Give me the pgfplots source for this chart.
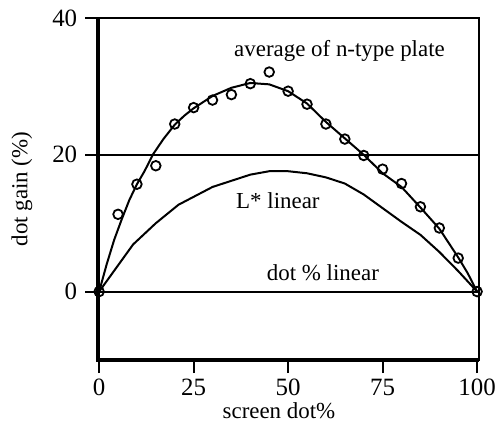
\documentclass[border=0pt]{standalone}
\usepackage{pgfplots}
\pgfplotsset{compat=1.18}
\usepackage{fontspec}
\setmainfont{Liberation Serif}

% circles: measured dot gain
\pgfplotstableread{
x y
0 0
5 11.3
10 15.7
15 18.4
20 24.5
25 26.9
30 28.0
35 28.8
40 30.4
45 32.1
50 29.3
55 27.4
60 24.5
65 22.3
70 19.9
75 17.9
80 15.8
85 12.4
90 9.3
95 4.9
100 0
}\measured

% fitted curve through the circles
\pgfplotstableread{
x y
0 0
2 4
4 7.6
6 10.6
8 13.4
10 15.7
12 17.6
14.3 20.1
17 22.3
20 24.4
22.5 25.7
25 26.8
30 28.6
35 29.8
40 30.5
45 30.3
50 29.3
55 27.5
60 24.8
65 22.4
70 20
75 17.3
80 15.3
85 12.3
90 9.2
95 5.0
97.5 2.7
100 0
}\fitted

% L* linear
\pgfplotstableread{
x y
0 0
9 6.9
15 10.0
21 12.7
30 15.3
40 17.1
45 17.6
50 17.6
55 17.3
60 16.7
65 15.8
70 14.2
75 12.2
80 10.2
85 8.3
90 5.8
95 3.0
100 0
}\lstar

\begin{document}
\begin{tikzpicture}
\fontsize{23}{27}\selectfont
\begin{axis}[
  at={(0,0)}, anchor=south west,
  scale only axis,
  width=381bp, height=342bp,
  xmin=-0.3, xmax=100.5,
  ymin=-10, ymax=40,
  xtick={0,25,50,75,100},
  ytick={0,20,40},
  tick align=outside,
  xtick pos=bottom, ytick pos=left,
  major tick length=13bp,
  tick style={line width=1.8bp, black},
  axis line style={line width=2.2bp},
  ymajorgrids,
  grid style={line width=2bp, black},
  /pgf/number format/assume math mode=true,
  ticklabel style={font=\fontsize{25}{29}\selectfont},
  xticklabel style={yshift=2bp},
  xlabel={screen dot\%},
  ylabel={dot gain (\%)},
  xlabel style={at={(axis description cs:0.475,-0.148)}, anchor=center},
  ylabel style={at={(axis description cs:-0.2,0.5)}, anchor=center},
  label style={font=\fontsize{23}{27}\selectfont},
  clip=false,
]
\draw[line width=3.2bp] (rel axis cs:0,1) -- (rel axis cs:0,0) -- (rel axis cs:1,0);
\addplot[black, line width=2bp, no marks] table {\lstar};
\addplot[black, line width=2bp, no marks] table {\fitted};
\addplot[black, only marks, mark=o, mark size=4.8bp, mark options={line width=1.8bp}] table {\measured};
\node[anchor=base] at (axis cs:63.6,34.3) {average of n-type plate};
\node[anchor=base] at (axis cs:47.3,12.1) {L* linear};
\node[anchor=base] at (axis cs:59.2,1.6) {dot \% linear};
\end{axis}
\pgfresetboundingbox
\path[use as bounding box] (-98bp,-64bp) rectangle (401bp,360bp);
\end{tikzpicture}
\end{document}
